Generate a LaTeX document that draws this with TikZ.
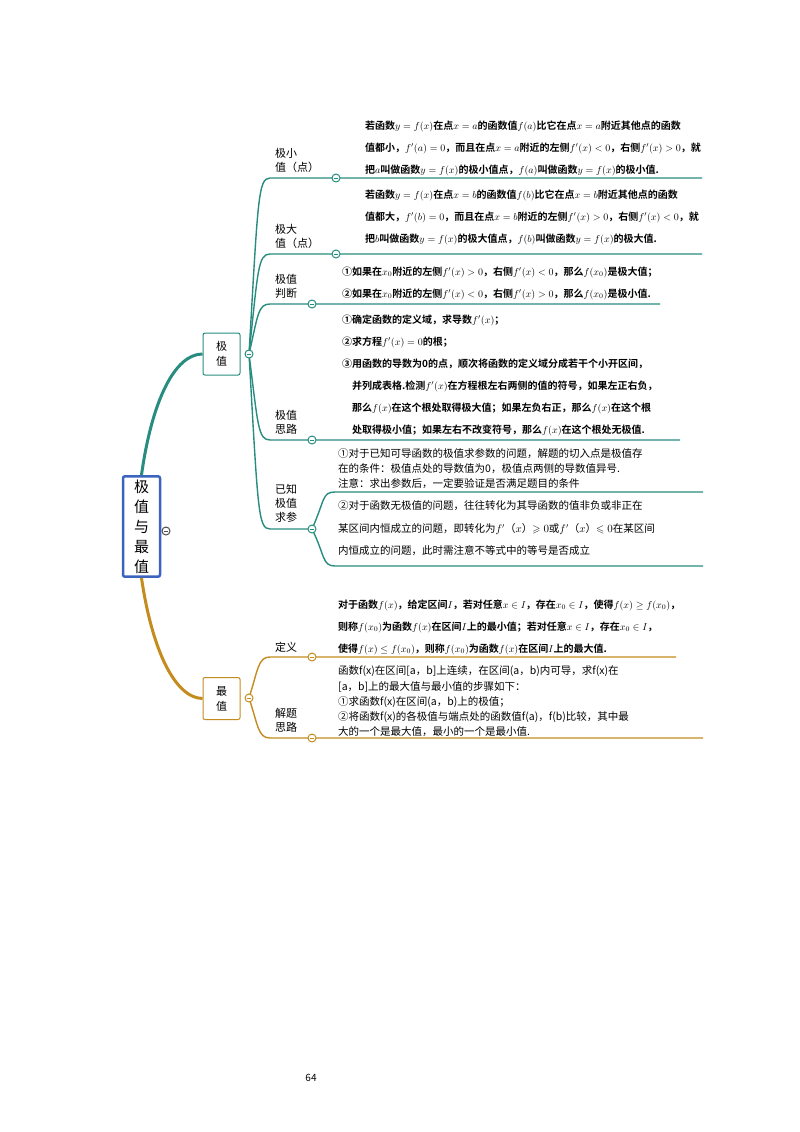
\documentclass[tikz,border=0pt]{standalone}
\usepackage{amssymb}
\usepackage{fontspec}
\setmainfont{Noto Sans CJK SC}
\newfontfamily\cjkb{Noto Sans CJK SC Bold}
\begin{document}
\begin{tikzpicture}[x=1pt,y=-1pt,
  txt/.style={anchor=west,inner sep=0pt,font=\fontsize{10}{12}\selectfont\cjkb},
  txtr/.style={anchor=west,inner sep=0pt,font=\fontsize{10.5}{12}\selectfont},
  lab/.style={anchor=west,inner sep=0pt,align=left,font=\fontsize{11}{14}\selectfont},
  tealc/.style={draw=teal,line width=1.4pt},
  goldc/.style={draw=goldcol,line width=1.4pt},
  col/.style={circle,draw,line width=1pt,fill=white,minimum size=8pt,inner sep=0pt,
    path picture={\draw[line width=0.9pt] ([xshift=-2pt]path picture bounding box.center)--([xshift=2pt]path picture bounding box.center);}},
  box/.style={draw,line width=1pt,rounded corners=2pt,minimum width=37pt,minimum height=42pt,align=center,font=\fontsize{11}{15}\selectfont,fill=white}
]
\definecolor{teal}{RGB}{40,140,128}
\definecolor{goldcol}{RGB}{196,140,30}
\definecolor{bluec}{RGB}{60,100,190}
\useasboundingbox (0,0) rectangle (800,1132);
\fill[white] (0,0) rectangle (800,1132);

% root
\node[draw=bluec,line width=2.5pt,rounded corners=2pt,minimum width=37pt,minimum height=97pt,align=center,font=\fontsize{15}{20}\selectfont,fill=white] (root) at (141.5,526.5) {极\\值\\与\\最\\值};
\node[col,draw=black!70] (rc) at (166,531) {};

\node[box,draw=teal] (jz) at (221.5,354) {极\\值};
\node[box,draw=goldcol] (zz) at (221.5,698.5) {最\\值};
\draw[teal,line width=3pt] (root.north) .. controls (152,400) and (175,354) .. (jz.west);
\draw[goldcol,line width=3pt] (root.south) .. controls (152,650) and (175,698) .. (zz.west);

\coordinate (jc) at (249,354);
\coordinate (zc) at (249,698);
\coordinate (sa) at (270,178); \coordinate (ea) at (702,178);
\coordinate (sb) at (270,254); \coordinate (eb) at (702,254);
\coordinate (sc) at (270,304); \coordinate (ec) at (660,304);
\coordinate (sd) at (270,440); \coordinate (ed) at (680,440);
\coordinate (se) at (270,529);
\coordinate (ca) at (336,178);
\coordinate (cb) at (336,254);
\coordinate (cc) at (312,304);
\coordinate (cd) at (312,440);
\coordinate (ce) at (312,529);
\coordinate (s1) at (335,492); \coordinate (e1) at (703,492);
\coordinate (s2) at (335,566); \coordinate (e2) at (703,566);

\draw[tealc] (jc) .. controls (258,200) and (258,178) .. (sa) -- (ca) -- (ea);
\draw[tealc] (jc) .. controls (258,270) and (258,254) .. (sb) -- (cb) -- (eb);
\draw[tealc] (jc) .. controls (258,315) and (258,304) .. (sc) -- (cc) -- (ec);
\draw[tealc] (jc) .. controls (258,425) and (258,440) .. (sd) -- (cd) -- (ed);
\draw[tealc] (jc) .. controls (258,510) and (258,529) .. (se) -- (ce);
\draw[tealc] (ce) .. controls (325,500) and (322,492) .. (s1) -- (e1);
\draw[tealc] (ce) .. controls (325,555) and (322,566) .. (s2) -- (e2);
\foreach \c in {ca,cb,cc,cd,ce,jc}{\node[col,draw=teal] at (\c) {};}

% gold branches
\coordinate (sf) at (270,657); \coordinate (ef) at (676,657);
\coordinate (sg) at (270,738); \coordinate (eg) at (703,738);
\coordinate (cf) at (312,657);
\coordinate (cg) at (312,738);
\draw[goldc] (zc) .. controls (258,670) and (258,657) .. (sf) -- (cf) -- (ef);
\draw[goldc] (zc) .. controls (258,725) and (258,738) .. (sg) -- (cg) -- (eg);
\foreach \c in {cf,cg,zc}{\node[col,draw=goldcol] at (\c) {};}

% labels
\node[lab] (la) at (275,160) {极小\\值（点）};
\node[lab] (lb) at (275,236) {极大\\值（点）};
\node[lab] (lc) at (275,286) {极值\\判断};
\node[lab] (ld) at (275,422) {极值\\思路};
\node[lab] (le) at (275,503) {已知\\极值\\求参};
\node[lab] (lf) at (275,647) {定义};
\node[lab] (lg) at (275,720) {解题\\思路};

% texts
\node[txt] (ta1) at (365,126) {若函数$y=f(x)$在点$x=a$的函数值$f(a)$比它在点$x=a$附近其他点的函数};
\node[txt] (ta2) at (365,148) {值都小，$f'(a)=0$，而且在点$x=a$附近的左侧$f'(x)<0$，右侧$f'(x)>0$，就};
\node[txt] (ta3) at (365,170) {把$a$叫做函数$y=f(x)$的极小值点，$f(a)$叫做函数$y=f(x)$的极小值.};
\node[txt] (tb1) at (365,195) {若函数$y=f(x)$在点$x=b$的函数值$f(b)$比它在点$x=b$附近其他点的函数};
\node[txt] (tb2) at (365,217) {值都大，$f'(b)=0$，而且在点$x=b$附近的左侧$f'(x)>0$，右侧$f'(x)<0$，就};
\node[txt] (tb3) at (365,239) {把$b$叫做函数$y=f(x)$的极大值点，$f(b)$叫做函数$y=f(x)$的极大值.};
\node[txt] (tc1) at (342,272) {①如果在$x_0$附近的左侧$f'(x)>0$，右侧$f'(x)<0$，那么$f(x_0)$是极大值；};
\node[txt] (tc2) at (342,294) {②如果在$x_0$附近的左侧$f'(x)<0$，右侧$f'(x)>0$，那么$f(x_0)$是极小值.};
\node[txt] (td1) at (342,320) {①确定函数的定义域，求导数$f'(x)$；};
\node[txt] (td2) at (342,342) {②求方程$f'(x)=0$的根；};
\node[txt] (td3) at (342,364) {③用函数的导数为0的点，顺次将函数的定义域分成若干个小开区间，};
\node[txt] (td4) at (352,386) {并列成表格.检测$f'(x)$在方程根左右两侧的值的符号，如果左正右负，};
\node[txt] (td5) at (352,408) {那么$f(x)$在这个根处取得极大值；如果左负右正，那么$f(x)$在这个根};
\node[txt] (td6) at (352,430) {处取得极小值；如果左右不改变符号，那么$f(x)$在这个根处无极值.};
\node[txtr] (te1) at (338,454) {①对于已知可导函数的极值求参数的问题，解题的切入点是极值存};
\node[txtr] (te2) at (338,469) {在的条件：极值点处的导数值为0，极值点两侧的导数值异号.};
\node[txtr] (te3) at (338,484) {注意：求出参数后，一定要验证是否满足题目的条件};
\node[txtr] (te4) at (338,506) {②对于函数无极值的问题，往往转化为其导函数的值非负或非正在};
\node[txtr] (te5) at (338,529) {某区间内恒成立的问题，即转化为$f'$（$x$）$\geqslant0$或$f'$（$x$）$\leqslant0$在某区间};
\node[txtr] (te6) at (338,551) {内恒成立的问题，此时需注意不等式中的等号是否成立};
\node[txt] (tf1) at (338,605) {对于函数$f(x)$，给定区间$I$，若对任意$x\in I$，存在$x_0\in I$，使得$f(x)\geq f(x_0)$，};
\node[txt] (tf2) at (338,627) {则称$f(x_0)$为函数$f(x)$在区间$I$上的最小值；若对任意$x\in I$，存在$x_0\in I$，};
\node[txt] (tf3) at (338,649) {使得$f(x)\leq f(x_0)$，则称$f(x_0)$为函数$f(x)$在区间$I$上的最大值.};
\node[txtr] (tg1) at (338,671) {函数f(x)在区间[a，b]上连续，在区间(a，b)内可导，求f(x)在};
\node[txtr] (tg2) at (338,687) {[a，b]上的最大值与最小值的步骤如下：};
\node[txtr] (tg3) at (338,702) {①求函数f(x)在区间(a，b)上的极值；};
\node[txtr] (tg4) at (338,717) {②将函数f(x)的各极值与端点处的函数值f(a)，f(b)比较，其中最};
\node[txtr] (tg5) at (338,732) {大的一个是最大值，最小的一个是最小值.};

\node[font=\fontsize{10}{12}\selectfont] (pg) at (311,1078) {64};
\end{tikzpicture}
\end{document}
